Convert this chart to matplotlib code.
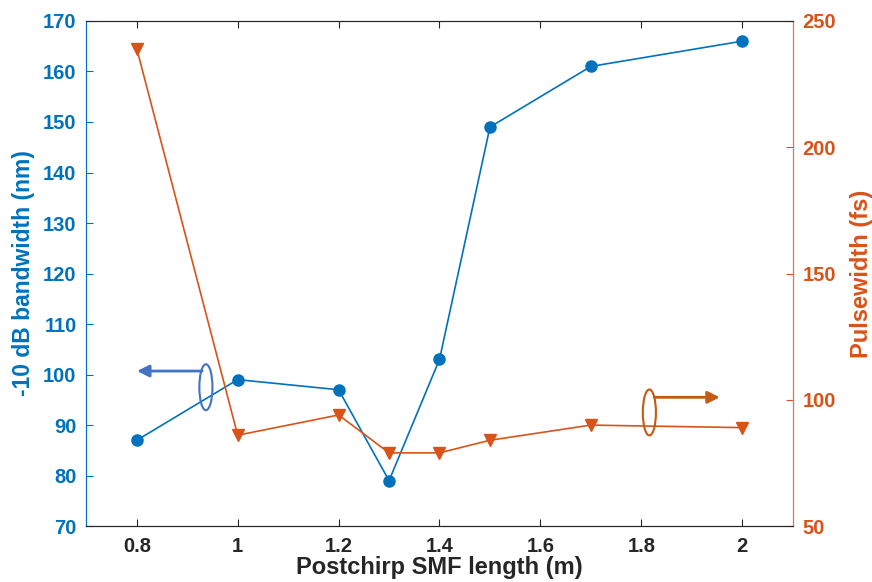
import matplotlib.pyplot as plt
from matplotlib.patches import Ellipse

plt.rcParams['font.family'] = ['Liberation Sans', 'DejaVu Sans']
plt.rcParams['font.weight'] = 'bold'

length_m = [0.8, 1.0, 1.2, 1.3, 1.4, 1.5, 1.7, 2.0]
bandwidth_nm = [87, 99, 97, 79, 103, 149, 161, 166]
pulsewidth_fs = [239, 86, 94, 79, 79, 84, 90, 89]

blue = '#0072BD'
orange = '#D95319'

fig = plt.figure(figsize=(8.72, 5.82), dpi=100)
ax = fig.add_axes([0.099, 0.096, 0.810, 0.868])
ax2 = ax.twinx()

ax.plot(length_m, bandwidth_nm, '-o', color=blue, lw=1.2, ms=8, zorder=3)
ax2.plot(length_m, pulsewidth_fs, '-v', color=orange, lw=1.2, ms=8.5, zorder=3)

ax.set_xlim(0.7, 2.1)
ax.set_ylim(70, 170)
ax2.set_ylim(50, 250)
ax.set_xticks([0.8, 1, 1.2, 1.4, 1.6, 1.8, 2])
ax.set_xticklabels(['0.8', '1', '1.2', '1.4', '1.6', '1.8', '2'])
ax.set_yticks(range(70, 171, 10))
ax2.set_yticks(range(50, 251, 50))

ax.tick_params(axis='x', direction='in', top=True, length=5, labelsize=14.5,
               colors='#262626', pad=8)
ax.tick_params(axis='y', direction='in', length=5, labelsize=14.5,
               colors=blue, pad=7)
ax2.tick_params(axis='y', direction='in', length=5, labelsize=14.5,
                colors=orange, pad=7)

for a in (ax, ax2):
    a.spines['top'].set_color('#262626')
    a.spines['bottom'].set_color('#262626')
    a.spines['left'].set_color(blue)
    a.spines['right'].set_color('#E8743B')

ax.set_xlabel('Postchirp SMF length (m)', fontsize=17, fontweight='bold',
              color='#262626', labelpad=0)
ax.set_ylabel('-10 dB bandwidth (nm)', fontsize=16.5, fontweight='bold',
              color=blue, labelpad=6)
ax2.set_ylabel('Pulsewidth (fs)', fontsize=17, fontweight='bold',
               color=orange, labelpad=10)

# axis indicators
ax.add_patch(Ellipse((0.937, 97.5), 0.026, 9.1, fill=False,
                     ec='#4472C4', lw=1.5, zorder=4))
ax.annotate('', xy=(0.795, 100.7), xytext=(0.935, 100.7),
            arrowprops=dict(arrowstyle='-|>', color='#4472C4', lw=2,
                            mutation_scale=18), zorder=4)
ax2.add_patch(Ellipse((1.816, 95), 0.026, 18.2, fill=False,
                      ec='#C55A11', lw=1.5, zorder=4))
ax2.annotate('', xy=(1.961, 101), xytext=(1.82, 101),
             arrowprops=dict(arrowstyle='-|>', color='#C55A11', lw=2,
                             mutation_scale=18), zorder=4)

fig.savefig('out.png', dpi=100)
